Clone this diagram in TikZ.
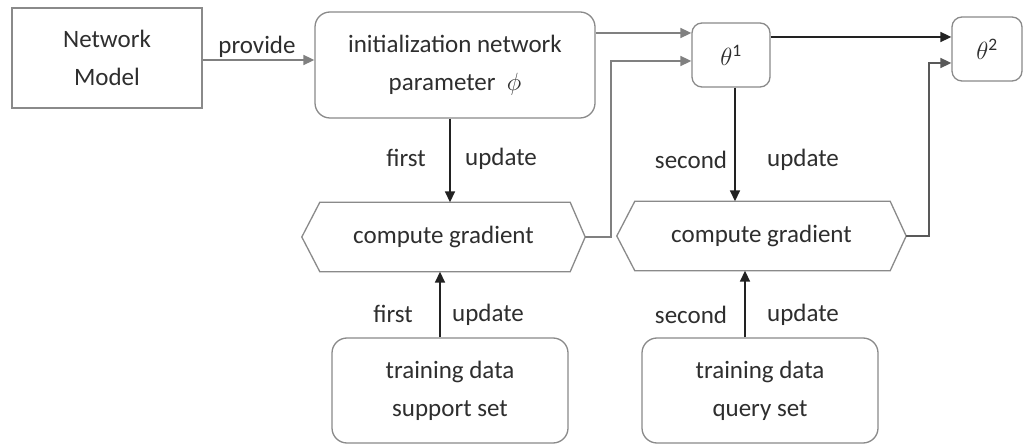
\documentclass[tikz,border=0pt]{standalone}
\usepackage{fontspec}
\setmainfont{Carlito}
\usetikzlibrary{arrows.meta}
\definecolor{boxgray}{HTML}{8A8A8A}
\definecolor{arrgray}{HTML}{808080}
\definecolor{darkline}{HTML}{222222}
\definecolor{txt}{HTML}{2E2E2E}
\begin{document}
\begin{tikzpicture}[x=1pt,y=-1pt,
  every node/.style={font=\fontsize{25}{38}\selectfont, text=txt},
  block/.style={draw=boxgray, line width=1.3pt, align=center, inner sep=0pt},
  rblock/.style={block, rounded corners=15pt},
  hexbox/.style={align=center, inner sep=0pt, minimum height=69pt},
  hexline/.style={draw=boxgray, line width=1.3pt, line join=miter},
  tipped/.style={-{Triangle[length=11pt,width=10pt]}, line width=1.7pt},
  grayarrow/.style={tipped, draw=arrgray},
  blackarrow/.style={tipped, draw=darkline},
  lbl/.style={inner sep=0pt}]
\useasboundingbox[fill=white] (0,0) rectangle (1026,446);

% boxes
\node[block, minimum width=190pt, minimum height=100pt] (net) at (107,58) {Network\\Model};
\node[rblock, minimum width=280pt, minimum height=106pt] (init) at (455,65)
  {initialization network\\parameter~~$\phi$};
\node[rblock, rounded corners=10pt, minimum width=78pt, minimum height=64pt] (th1) at (731,55) {$\theta^{\mathrm{1}}$};
\node[rblock, rounded corners=10pt, minimum width=70pt, minimum height=64pt] (th2) at (987,49) {$\theta^{\mathrm{2}}$};
\node[hexbox, minimum width=283pt] (g1) at (443.5,237) {compute gradient};
\node[hexbox, minimum width=289pt] (g2) at (761.5,236) {compute gradient};
\node[rblock, minimum width=236pt, minimum height=105pt] (sup) at (450,390.5) {training data\\support set};
\node[rblock, minimum width=236pt, minimum height=105pt] (qry) at (760,390.5) {training data\\query set};

% hexagon outlines
\draw[hexline] (g1.west) -- ([xshift=18pt]g1.north west) -- ([xshift=-15pt]g1.north east)
  -- (g1.east) -- ([xshift=-15pt]g1.south east) -- ([xshift=18pt]g1.south west) -- cycle;
\draw[hexline] (g2.west) -- ([xshift=18pt]g2.north west) -- ([xshift=-16pt]g2.north east)
  -- (g2.east) -- ([xshift=-16pt]g2.south east) -- ([xshift=18pt]g2.south west) -- cycle;

% bend points of the feedback lines
\coordinate (k1) at (611,61);
\coordinate (k2) at (929,63);

% connectors
\draw[grayarrow] (net.east |- 0,60) -- (init.west |- 0,60);
\draw[grayarrow] (init.east |- 0,33) -- (th1.west |- 0,33);
\draw[grayarrow] (g1.east) -| (k1) -- (k1 -| th1.west);
\draw[blackarrow] (th1.east |- 0,37) -- (th2.west |- 0,37);
\draw[tipped, draw=darkline!75] (g2.east) -| (k2) -- (k2 -| th2.west);
\draw[blackarrow] (init.south -| 450,0) -- (g1.north -| 450,0);
\draw[blackarrow] (th1.south -| 735,0) -- (g2.north -| 735,0);
\draw[blackarrow] (sup.north -| 440,0) -- (g1.south -| 440,0);
\draw[blackarrow] (qry.north -| 745,0) -- (g2.south -| 745,0);

% labels
\node[lbl] (lprov) at (257,47) {provide};
\node[lbl] (l1a) at (406,158) {first};
\node[lbl] (l1b) at (501,159) {update};
\node[lbl] (l2a) at (691,160) {second};
\node[lbl] (l2b) at (803,160) {update};
\node[lbl] (l3a) at (393,314) {first};
\node[lbl] (l3b) at (488,315) {update};
\node[lbl] (l4a) at (691,315) {second};
\node[lbl] (l4b) at (803,315) {update};
\end{tikzpicture}
\end{document}
